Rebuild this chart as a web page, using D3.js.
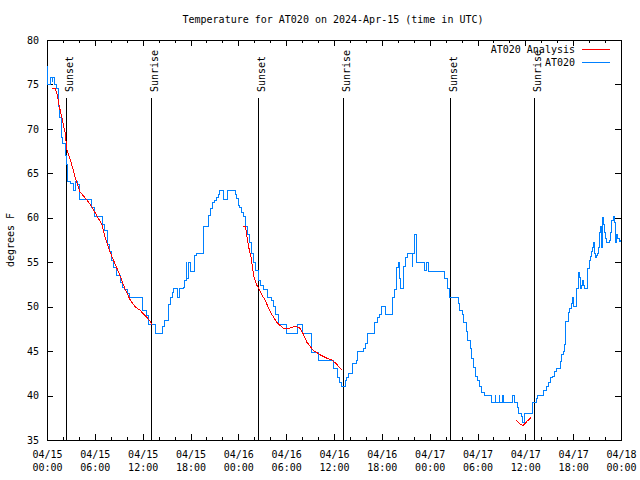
<!DOCTYPE html>
<html><head><meta charset="utf-8">
<script src="https://cdn.jsdelivr.net/npm/d3@7"></script>
<style>
body{margin:0;background:#fff;}
text{font-family:"DejaVu Sans Mono","Liberation Mono",monospace;font-size:10px;fill:#000;}
</style></head>
<body><svg id="c" width="640" height="480"></svg>
<script>
// Data (hours since 2024-04-15 00:00 UTC, temperature in degrees F)
const stationReadings = [
[0,77],[0.1,75],[0.5,75.8],[0.63,75.3],[0.75,75.8],[1.0,75],[1.25,74.6],[1.38,73.5],[1.5,72.5],[1.63,71.3],
[1.76,70.2],[1.88,69],[2.0,68.4],[2.26,67.6],[2.38,67],[2.45,66],[2.51,64.1],[2.9,63.9],[3.3,63.1],[3.6,64.1],
[3.85,63.7],[4.1,62.1],[5.52,61.2],[5.9,60.1],[7.02,59.3],[7.15,58.6],[7.53,57],[7.78,56.2],[8.03,55.25],[8.4,54.4],
[8.78,53.5],[9.16,52.7],[9.41,52.2],[9.78,51.9],[10.16,51.5],[10.41,51],[12.04,49.6],[12.42,49],[12.67,48],[13.55,47],
[14.55,47.8],[14.8,48.5],[15.18,50.2],[15.43,51],[15.68,51.6],[15.93,52],[16.43,51],[16.68,52],[17.06,52.2],[17.31,53],
[17.44,55],[17.56,53.2],[17.81,55],[17.94,54],[18.44,55.8],[18.69,56],[19.57,59],[20.2,60.3],[20.45,61],[20.7,61.7],
[20.95,62],[21.2,62.3],[21.45,62.6],[21.7,63.1],[22.2,62.1],[22.7,63.1],[23.6,62.6],[23.8,62.2],[23.96,61.4],[24.2,61.2],
[24.34,60.6],[24.6,60.1],[24.84,59],[25.1,58.1],[25.34,57.2],[25.6,56],[25.84,55],[26.2,54.1],[26.47,53],[26.84,52.4],
[27.2,51.9],[27.72,51],[28.1,50.75],[28.47,50],[28.72,49.1],[29.1,48],[29.98,47],[31.36,48],[32.1,47],[33.24,44.9],
[34.0,44],[35.88,43],[36.5,42],[36.75,41.5],[37.0,41],[37.38,41.75],[37.63,42],[37.88,42.5],[38.26,43.6],[38.76,44],
[39.0,45],[39.76,45.3],[40.0,45.9],[40.14,47],[41.14,48.2],[41.4,48.8],[41.65,49.1],[41.9,50],[42.52,49.1],[43.28,50],
[43.4,51],[43.65,51.9],[43.78,53],[43.9,54.4],[44.03,55],[44.16,53.2],[44.4,52],[44.66,53],[44.78,54.5],[45.03,55.5],
[45.28,56],[45.8,54.5],[45.9,56],[46.16,58.1],[46.3,57.2],[46.41,55],[47.3,54.1],[47.55,55],[47.8,54],[49.9,53.2],
[50.18,52.1],[50.55,51],[51.56,50.4],[51.8,49.6],[52.06,49.1],[52.3,48.2],[52.56,47.2],[52.8,46.25],[53.06,45.3],[53.3,44.2],
[53.56,43.2],[53.8,42.1],[54.06,41.75],[54.3,41],[54.56,40.3],[54.94,40],[55.7,39.2],[56.2,40],[56.32,39.2],[56.7,40],
[56.82,39.2],[57.08,40],[57.2,39.2],[58.45,40],[58.58,39.2],[58.96,38.7],[59.2,38],[59.46,37.6],[59.7,37],[59.84,38],
[60.96,39.2],[61.34,39.7],[61.47,40],[62.34,40.6],[62.6,41],[62.85,41.5],[63.1,42],[63.35,42.1],[63.6,42.7],[63.85,43],
[64.35,43.8],[64.48,44.6],[64.73,45],[64.86,45.7],[64.98,47.1],[65.1,48.3],[65.36,49.3],[65.48,49.8],[65.73,50.4],[65.86,51],
[65.98,50],[66.36,51],[66.48,52.1],[66.61,53.9],[66.74,53.3],[66.86,52.1],[66.99,52.4],[67.11,53],[67.24,52.4],[67.36,52],
[67.74,52.8],[67.86,54.3],[67.99,55.25],[68.12,55.6],[68.24,56.2],[68.37,56.7],[68.5,57.2],[68.62,56],[68.74,55.5],[68.87,55.8],
[69.0,56],[69.12,56.7],[69.25,58.3],[69.37,59],[69.5,56.7],[69.62,60],[69.75,59.2],[69.87,58.4],[70.0,57.7],[70.13,57.2],
[70.5,57.5],[70.63,58.3],[70.75,59.75],[71.0,60.1],[71.13,59.5],[71.25,57.2],[71.38,58.1],[71.5,57.7],[71.75,57.3],[71.88,57.5],[72,57.5]
];
const analysisNight1 = [
[0.63,74.6],[1.0,74.6],[1.25,74],[1.5,72.7],[1.88,71.2],[2.26,69.6],[2.51,67.6],[3.01,66.3],[3.51,64.6],[4.14,62.9],
[5.02,62],[5.64,61.2],[6.4,60],[6.9,59.2],[7.28,57.8],[7.9,56.2],[8.53,54.8],[9.03,53.8],[9.78,52],[10.41,50.8],
[11.04,50],[11.67,49.6],[12.3,49],[12.92,48.4],[13.17,48]
];
const analysisNight2 = [
[24.6,59],[24.9,59],[25.1,57.8],[25.3,56.7],[25.6,55.5],[25.97,53.3],[26.34,52.4],[26.84,51.5],[27.35,50.75],[27.72,50],
[28.22,49.1],[28.85,48.2],[29.6,47.6],[30.5,47.6],[31.1,47.8],[31.7,47.6],[32.1,47],[32.6,46],[33.37,45.1],[34.24,44.6],
[35.1,44.2],[35.75,44],[36.25,43.6],[36.75,43.1],[37.0,42.9]
];
const analysisNight3 = [
[58.83,37.25],[59.2,36.9],[59.7,36.6],[60.2,37.1],[60.7,37.5]
];
const sunLabels = ["Sunset","Sunrise","Sunset","Sunrise","Sunset","Sunrise"];
const sunHours = [2.38, 13.07, 26.45, 37.12, 50.52, 61.07];
const yTicks = [35,40,45,50,55,60,65,70,75,80];
const legendNames = ["AT020 Analysis","AT020"];
const legendColors = ["#ff0000","#0080ff"];

const start = Date.UTC(2024,3,15,0,0);
const toDate = h => new Date(start + h*3600000);

const svg = d3.select("#c");
const L=47,R=621,T=40,B=440;
const x = d3.scaleUtc().domain([toDate(0), toDate(72)]).range([L,R]);
const y = d3.scaleLinear().domain([35,80]).range([B,T]);

const majorTicks = d3.utcHour.every(6).range(toDate(0), toDate(72.01));
const minorTicks = d3.utcHour.every(2).range(toDate(0), toDate(72.01));

// minor ticks bottom/top
svg.append("g").attr("transform",`translate(0,${B})`)
  .call(d3.axisBottom(x).tickValues(minorTicks).tickSizeInner(-3).tickSizeOuter(0).tickFormat(""));
svg.append("g").attr("transform",`translate(0,${T})`)
  .call(d3.axisTop(x).tickValues(minorTicks).tickSizeInner(-3).tickSizeOuter(0).tickFormat(""));
// major ticks
const fmt1 = d3.utcFormat("%m/%d"), fmt2 = d3.utcFormat("%H:%M");
const gB = svg.append("g").attr("transform",`translate(0,${B})`)
  .call(d3.axisBottom(x).tickValues(majorTicks).tickSizeInner(-6).tickSizeOuter(0).tickFormat(""));
gB.selectAll(".tick text").remove();
gB.selectAll(".tick").append("text").attr("text-anchor","middle")
  .each(function(d){
    const t=d3.select(this);
    t.append("tspan").attr("x",0).attr("y",18).text(fmt1(d));
    t.append("tspan").attr("x",0).attr("y",31).text(fmt2(d));
  });
svg.append("g").attr("transform",`translate(0,${T})`)
  .call(d3.axisTop(x).tickValues(majorTicks).tickSizeInner(-6).tickSizeOuter(0).tickFormat(""));
svg.append("g").attr("transform",`translate(${L},0)`)
  .call(d3.axisLeft(y).tickValues(yTicks).tickSizeInner(-6).tickSizeOuter(0).tickPadding(8));
svg.append("g").attr("transform",`translate(${R},0)`)
  .call(d3.axisRight(y).tickValues(yTicks).tickSizeInner(-6).tickSizeOuter(0).tickFormat(""));
svg.selectAll(".domain").remove();
svg.selectAll(".tick line").attr("stroke","#000").attr("shape-rendering","crispEdges");
svg.selectAll(".tick text").style("font-family",'"DejaVu Sans Mono",monospace').style("font-size","10px").attr("fill","#000");

// border
svg.append("rect").attr("x",L).attr("y",T).attr("width",R-L).attr("height",B-T)
  .attr("fill","none").attr("stroke","#000").attr("shape-rendering","crispEdges");

// sun lines
sunHours.forEach((h,i)=>{
  const xx = Math.round(x(toDate(h)))+0.5;
  svg.append("line").attr("x1",xx).attr("x2",xx).attr("y1",98).attr("y2",B)
    .attr("stroke","#000").attr("stroke-width",1).attr("shape-rendering","crispEdges");
  svg.append("text").attr("transform",`translate(${xx+6},92) rotate(-90)`)
    .attr("text-anchor","start").text(sunLabels[i]);
});

// lines
const stepLine = d3.line().x(d=>x(toDate(d[0]))).y(d=>y(d[1])).curve(d3.curveStepAfter);
svg.append("path").datum(stationReadings).attr("d",stepLine)
  .attr("fill","none").attr("stroke",legendColors[1]).attr("stroke-width",1).attr("shape-rendering","crispEdges");
const line = d3.line().x(d=>x(toDate(d[0]))).y(d=>y(d[1]));
[analysisNight1,analysisNight2,analysisNight3].forEach(seg=>{
  svg.append("path").datum(seg).attr("d",line)
    .attr("fill","none").attr("stroke",legendColors[0]).attr("stroke-width",1).attr("shape-rendering","crispEdges");
});

// legend
legendNames.forEach((n,i)=>{
  const ly = 49 + i*13;
  svg.append("text").attr("x",575).attr("y",ly+4).attr("text-anchor","end").text(n);
  svg.append("line").attr("x1",582).attr("x2",610).attr("y1",ly+0.5).attr("y2",ly+0.5)
    .attr("stroke",legendColors[i]).attr("shape-rendering","crispEdges");
});

// title and y label
svg.append("text").attr("x",333).attr("y",23).attr("text-anchor","middle")
  .text("Temperature for AT020 on 2024-Apr-15 (time in UTC)");
svg.append("text").attr("transform","translate(14,240) rotate(-90)").attr("text-anchor","middle").text("degrees F");
</script></body></html>
